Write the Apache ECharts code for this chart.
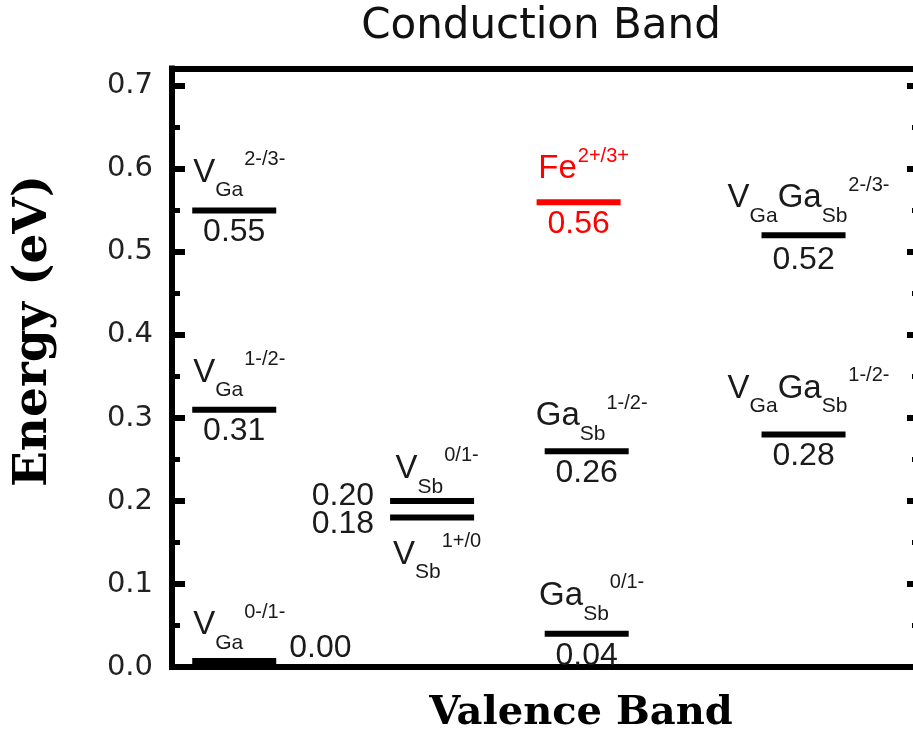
<!DOCTYPE html>
<html>
<head>
<meta charset="utf-8">
<script src="https://cdn.jsdelivr.net/npm/echarts@6/dist/echarts.min.js"></script>
<style>
  html, body { margin: 0; padding: 0; background: #fff; }
  #chart { width: 913px; height: 742px; }
</style>
</head>
<body>
<div id="chart"></div>
<script>
// Defect levels in the GaSb band gap, energies measured from the valence band (eV)
const defects = ['VGa', 'VGa', 'VGa', 'VSb', 'VSb', 'Fe', 'GaSb', 'GaSb', 'VGaGaSb', 'VGaGaSb'];
const chargeStates = ['2-/3-', '1-/2-', '0-/1-', '0/1-', '1+/0', '2+/3+', '1-/2-', '0/1-', '2-/3-', '1-/2-'];
const energies = [0.55, 0.31, 0.00, 0.20, 0.18, 0.56, 0.26, 0.04, 0.52, 0.28];

const yMin = 0;
const yMax = 0.721;
const yMajorStep = 0.1;
const yMinorStep = 0.05;

// ---- layout and styling ----
const SANS = '"Liberation Sans", Arial, sans-serif';
const WIDE_SANS = '"DejaVu Sans", Verdana, sans-serif';
const SERIF = '"DejaVu Serif", "Liberation Serif", serif';
const INK = '#1a1a1a';

// horizontal column of each defect (fraction of the plot width)
const COLUMN_X = { VGa: 0.0832, VSb: 0.3477, Fe: 0.5436, GaSb: 0.5544, VGaGaSb: 0.8443 };
// label pieces: m = main text, s = subscript (charge state is appended as superscript)
const NAME_PARTS = {
  VGa: [['m', 'V'], ['s', 'Ga']],
  VSb: [['m', 'V'], ['s', 'Sb']],
  Fe: [['m', 'Fe']],
  GaSb: [['m', 'Ga'], ['s', 'Sb']],
  VGaGaSb: [['m', 'V'], ['s', 'Ga'], ['m', 'Ga'], ['s', 'Sb']]
};
const LEVEL_COLOR = { Fe: '#ff0000' };
// where the defect name and the energy value sit around each level
// dn: vertical distance of the name from the level, dv: extra shift of the value
const PLACEMENT = [
  { name: 'above', dn: -38, value: 'below' },
  { name: 'above', dn: -37, value: 'below' },
  { name: 'above', dn: -37, value: 'right' },
  { name: 'above', dn: -32, value: 'left', dv: -5 },
  { name: 'below', dn: 37, value: 'left', dv: 7 },
  { name: 'above', dn: -33, value: 'below' },
  { name: 'above', dn: -35, value: 'below' },
  { name: 'above', dn: -38, value: 'below' },
  { name: 'above', dn: -37, value: 'below', dv: 3 },
  { name: 'above', dn: -46, value: 'below' }
];
const BAR_HALF = 42;
const BAR_THICK = 6;

function makeRich(color) {
  return {
    m: { fontSize: 33, fontFamily: SANS, fill: color },
    s: { fontSize: 21, fontFamily: SANS, fill: color, padding: [36, 0, 0, 0] },
    p: { fontSize: 20, fontFamily: SANS, fill: color, padding: [0, 0, 26, 1] }
  };
}

function nameText(i) {
  const body = NAME_PARTS[defects[i]].map(([k, t]) => '{' + k + '|' + t + '}').join('');
  return body + '{p|' + chargeStates[i] + '}';
}

const levelData = energies.map((e, i) => [COLUMN_X[defects[i]], e, i]);

function renderLevel(params, api) {
  const i = api.value(2);
  const energy = api.value(1);
  const pt = api.coord([api.value(0), energy]);
  const color = LEVEL_COLOR[defects[i]] || '#000';
  const textColor = LEVEL_COLOR[defects[i]] || INK;
  const place = PLACEMENT[i];
  const cx = pt[0];
  // a level at the band edge rests on top of the frame line
  const atEdge = energy === 0;
  const cy = atEdge ? pt[1] - 5 : pt[1];
  const thick = atEdge ? 8 : BAR_THICK;
  const children = [{
    type: 'rect',
    shape: { x: cx - BAR_HALF, y: cy - thick / 2, width: BAR_HALF * 2, height: thick },
    style: { fill: color }
  }];

  children.push({
    type: 'text',
    style: {
      text: nameText(i),
      x: cx + 5,
      y: cy + place.dn,
      align: 'center',
      verticalAlign: 'middle',
      fill: textColor,
      fontSize: 33,
      fontFamily: SANS,
      rich: makeRich(textColor)
    }
  });

  let vx = cx, vy = cy + 22 + (place.dv || 0), va = 'center';
  if (place.value === 'right') { vx = cx + BAR_HALF + 13; vy = cy - 14; va = 'left'; }
  if (place.value === 'left') { vx = cx - BAR_HALF - 16; vy = cy + (place.dv || 0); va = 'right'; }
  children.push({
    type: 'text',
    style: {
      text: energy.toFixed(2),
      x: vx, y: vy,
      align: va,
      verticalAlign: 'middle',
      fill: textColor,
      fontSize: 32,
      fontFamily: SANS
    }
  });
  return { type: 'group', children: children };
}

function majorLabel(v) {
  const k = v / yMajorStep;
  return Math.abs(k - Math.round(k)) < 1e-6 ? v.toFixed(1) : '';
}

function yAxisDef(position, step, tickLen, tickWidth, withLabels, withLine) {
  return {
    type: 'value',
    position: position,
    min: yMin,
    max: yMax,
    interval: step,
    axisLine: { show: withLine, onZero: false, lineStyle: { color: '#000', width: 6, cap: 'square' } },
    axisTick: { show: true, inside: true, length: tickLen, lineStyle: { color: '#000', width: tickWidth } },
    axisLabel: withLabels ? {
      show: true, margin: 19, color: '#222', fontSize: 29, fontFamily: WIDE_SANS,
      formatter: majorLabel
    } : { show: false },
    splitLine: { show: false }
  };
}

function xAxisDef(position) {
  return {
    type: 'value',
    position: position,
    min: 0,
    max: 1,
    axisLine: { show: true, onZero: false, lineStyle: { color: '#000', width: 6, cap: 'square' } },
    axisTick: { show: false },
    axisLabel: { show: false },
    splitLine: { show: false }
  };
}

const chart = echarts.init(document.getElementById('chart'), null, { renderer: 'canvas' });
chart.setOption({
  animation: false,
  backgroundColor: '#fff',
  grid: { left: 172, right: -7, top: 68.5, bottom: 75, containLabel: false, outerBoundsMode: 'none' },
  xAxis: [xAxisDef('bottom'), xAxisDef('top')],
  yAxis: [
    yAxisDef('left', yMajorStep, 13, 6, true, true),
    yAxisDef('left', yMinorStep, 8, 5, false, false),
    yAxisDef('right', yMajorStep, 13, 6, false, true),
    yAxisDef('right', yMinorStep, 8, 5, false, false)
  ],
  graphic: [
    {
      type: 'text', x: 541, y: 27, silent: true,
      style: { text: 'Conduction Band', align: 'center', verticalAlign: 'middle', fill: '#111', fontSize: 42, fontFamily: WIDE_SANS }
    },
    {
      type: 'text', x: 581, y: 714, silent: true,
      style: { text: 'Valence Band', align: 'center', verticalAlign: 'middle', fill: '#000', fontSize: 40, fontWeight: 'bold', fontFamily: SERIF }
    },
    {
      type: 'text', x: 34, y: 331, rotation: Math.PI / 2, silent: true,
      style: { text: 'Energy (eV)', align: 'center', verticalAlign: 'middle', fill: '#000', fontSize: 47, fontWeight: 'bold', fontFamily: SERIF }
    }
  ],
  series: [{
    type: 'custom',
    xAxisIndex: 0,
    yAxisIndex: 0,
    silent: true,
    clip: false,
    encode: { x: 0, y: 1 },
    data: levelData,
    renderItem: renderLevel,
    z: 5
  }]
});
</script>
</body>
</html>
